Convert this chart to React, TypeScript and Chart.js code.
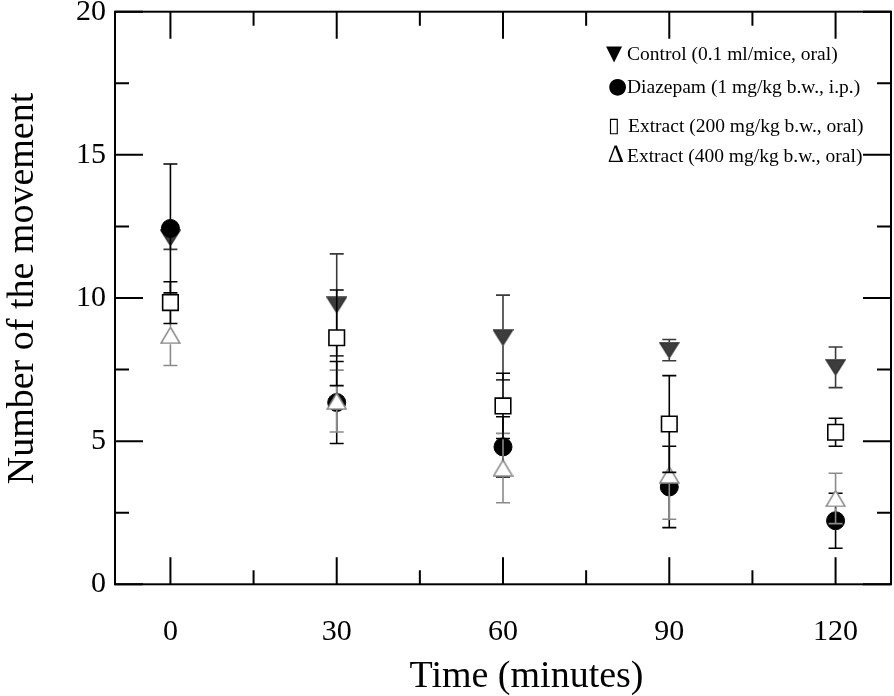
import React, { useEffect, useRef } from 'react';
import { Chart, registerables } from 'chart.js';
Chart.register(...registerables);

const times = [0, 30, 60, 90, 120];
const control = [12.1, 9.76, 8.62, 8.18, 7.58];
const controlErr = [0.4, 1.78, 1.48, 0.37, 0.71];
const diazepam = [12.43, 6.35, 4.8, 3.4, 2.22];
const diazepamErr = [2.25, 1.43, 1.05, 1.42, 0.96];
const extract200 = [9.84, 8.61, 6.23, 5.6, 5.31];
const extract200Err = [0.73, 1.67, 1.14, 1.69, 0.49];
const extract400 = [8.7, 6.4, 4.06, 3.82, 3.0];
const extract400Err = [1.06, 1.08, 1.21, 1.55, 0.88];

const seriesNames = [
  'Control (0.1 ml/mice, oral)',
  'Diazepam (1 mg/kg b.w., i.p.)',
  'Extract (200 mg/kg b.w., oral)',
  'Extract (400 mg/kg b.w., oral)',
];
const legendSymbols = ['\u25BC', '\u25CF', '\u25AF', '\u2206'];

const xMajorTicks = [0, 30, 60, 90, 120];
const xMinorTicks = [15, 45, 75, 105];
const yMajorTicks = [0, 5, 10, 15, 20];
const yMinorTicks = [2.5, 7.5, 12.5, 17.5];
const xTitle = 'Time (minutes)';
const yTitle = 'Number of the movement';

const FONT = '"Liberation Serif", "Times New Roman", serif';

function makeTriangle(down: boolean, fill: string, stroke: string, w: number, h: number) {
  const c = document.createElement('canvas');
  c.width = w;
  c.height = h;
  const g = c.getContext('2d')!;
  g.beginPath();
  if (down) {
    g.moveTo(1, 1);
    g.lineTo(w - 1, 1);
    g.lineTo(w / 2, h - 1);
  } else {
    g.moveTo(w / 2, 1);
    g.lineTo(w - 1, h - 1);
    g.lineTo(1, h - 1);
  }
  g.closePath();
  g.fillStyle = fill;
  g.fill();
  g.lineWidth = 1.5;
  g.strokeStyle = stroke;
  g.stroke();
  return c;
}

function pts(vals: number[]) {
  return times.map((t, i) => ({ x: t, y: vals[i] }));
}

const errorBarPlugin = {
  id: 'errorBars',
  afterDatasetDraw(chart: any, args: any) {
    const ds = chart.data.datasets[args.index];
    const { ctx, scales } = chart;
    const xs = scales.x;
    const ys = scales.y;
    const errs: number[] = ds.errors;
    const h: number = ds.markerHalf;
    ctx.save();
    ctx.strokeStyle = ds.barColor;
    ctx.lineWidth = 1.6;
    ds.data.forEach((p: any, j: number) => {
      const px = xs.getPixelForValue(p.x);
      const py = ys.getPixelForValue(p.y);
      const top = ys.getPixelForValue(p.y + errs[j]);
      const bot = ys.getPixelForValue(p.y - errs[j]);
      ctx.beginPath();
      if (py - top > h) {
        ctx.moveTo(px, py - h);
        ctx.lineTo(px, top);
        ctx.moveTo(px - 7, top);
        ctx.lineTo(px + 7, top);
      }
      if (bot - py > h) {
        ctx.moveTo(px, py + h);
        ctx.lineTo(px, bot);
        ctx.moveTo(px - 7, bot);
        ctx.lineTo(px + 7, bot);
      }
      ctx.stroke();
    });
    ctx.restore();
  },
};

const decorPlugin = {
  id: 'decor',
  afterDraw(chart: any) {
    const { ctx, chartArea: a, scales } = chart;
    const xs = scales.x;
    const ys = scales.y;
    ctx.save();
    ctx.strokeStyle = '#000';
    ctx.lineWidth = 2;
    ctx.strokeRect(a.left, a.top, a.right - a.left, a.bottom - a.top);
    ctx.beginPath();
    const tick = (vals: number[], len: number) => {
      vals.forEach((v) => {
        const px = xs.getPixelForValue(v);
        ctx.moveTo(px, a.bottom);
        ctx.lineTo(px, a.bottom - len);
        ctx.moveTo(px, a.top);
        ctx.lineTo(px, a.top + len);
      });
    };
    const ytick = (vals: number[], len: number) => {
      vals.forEach((v) => {
        const py = ys.getPixelForValue(v);
        ctx.moveTo(a.left, py);
        ctx.lineTo(a.left + len, py);
        ctx.moveTo(a.right, py);
        ctx.lineTo(a.right - len, py);
      });
    };
    tick(xMajorTicks, 27);
    tick(xMinorTicks, 14);
    ytick(yMajorTicks, 28);
    ytick(yMinorTicks, 14);
    ctx.stroke();

    ctx.fillStyle = '#000';
    // axis titles
    ctx.font = `38px ${FONT}`;
    ctx.textAlign = 'center';
    ctx.textBaseline = 'alphabetic';
    ctx.fillText(xTitle, 526.5, 686.5);
    ctx.save();
    ctx.translate(33, 288.5);
    ctx.rotate(-Math.PI / 2);
    ctx.fillText(yTitle, 0, 0);
    ctx.restore();

    // legend
    const baselines = [60, 93.3, 131.7, 161.7];
    const symFonts = [
      `21px "DejaVu Sans", sans-serif`,
      `22px "DejaVu Sans", sans-serif`,
      `21px "DejaVu Sans", sans-serif`,
      `25px ${FONT}`,
    ];
    const symX = [606, 608, 608, 608];
    seriesNames.forEach((name, i) => {
      ctx.textAlign = 'left';
      ctx.font = symFonts[i];
      ctx.fillText(legendSymbols[i], symX[i], baselines[i]);
      ctx.font = `19.5px ${FONT}`;
      ctx.fillText(name, i === 2 ? 628 : 627, baselines[i]);
    });
    ctx.restore();
  },
};

const zeroPadding = (s: any) => {
  s.paddingLeft = 0;
  s.paddingRight = 0;
  s.paddingTop = 0;
  s.paddingBottom = 0;
};

export default function App() {
  const ref = useRef<HTMLCanvasElement | null>(null);
  useEffect(() => {
    if (!ref.current) return;
    const triDown = makeTriangle(true, '#3d3d3d', '#333333', 21, 17);
    const triUp = makeTriangle(false, '#ffffff', '#8a8a8a', 21, 18);
    const chart = new Chart(ref.current, {
      type: 'scatter',
      data: {
        datasets: [
          {
            label: seriesNames[0],
            data: pts(control),
            pointStyle: triDown as any,
            order: 4,
            errors: controlErr,
            markerHalf: 8,
            barColor: '#3a3a3a',
          } as any,
          {
            label: seriesNames[1],
            data: pts(diazepam),
            pointStyle: 'circle',
            pointRadius: 9,
            backgroundColor: '#000',
            borderColor: '#000',
            borderWidth: 1,
            order: 3,
            errors: diazepamErr,
            markerHalf: 9,
            barColor: '#000',
          } as any,
          {
            label: seriesNames[2],
            data: pts(extract200),
            pointStyle: 'rect',
            pointRadius: 11,
            backgroundColor: '#fff',
            borderColor: '#000',
            borderWidth: 1.6,
            order: 1,
            errors: extract200Err,
            markerHalf: 8,
            barColor: '#000',
          } as any,
          {
            label: seriesNames[3],
            data: pts(extract400),
            pointStyle: triUp as any,
            order: 2,
            errors: extract400Err,
            markerHalf: 9,
            barColor: '#8a8a8a',
          } as any,
        ],
      },
      options: {
        animation: false,
        responsive: false,
        devicePixelRatio: 1,
        layout: { autoPadding: false, padding: { left: 0, right: 3, top: 11.7, bottom: 0 } },
        plugins: { legend: { display: false }, tooltip: { enabled: false } },
        scales: {
          x: {
            type: 'linear',
            min: -10,
            max: 130,
            grid: { display: false, drawTicks: false },
            border: { display: false },
            ticks: { font: { family: FONT, size: 30 }, color: '#000', padding: 30, maxRotation: 0 },
            afterBuildTicks: (s: any) => {
              s.ticks = xMajorTicks.map((v) => ({ value: v }));
            },
            afterFit: (s: any) => {
              s.height = 111.7;
              zeroPadding(s);
            },
          },
          y: {
            type: 'linear',
            min: 0,
            max: 20,
            grid: { display: false, drawTicks: false },
            border: { display: false },
            ticks: { font: { family: FONT, size: 30 }, color: '#000', padding: 9 },
            afterBuildTicks: (s: any) => {
              s.ticks = yMajorTicks.map((v) => ({ value: v }));
            },
            afterFit: (s: any) => {
              s.width = 115;
              zeroPadding(s);
            },
          },
        },
      } as any,
      plugins: [errorBarPlugin, decorPlugin],
    });
    return () => chart.destroy();
  }, []);
  return (
    <div style={{ position: 'fixed', left: 0, top: 0, width: 894, height: 696, background: '#fff' }}>
      <canvas ref={ref} width={894} height={696} style={{ display: 'block', width: 894, height: 696 }} />
    </div>
  );
}
